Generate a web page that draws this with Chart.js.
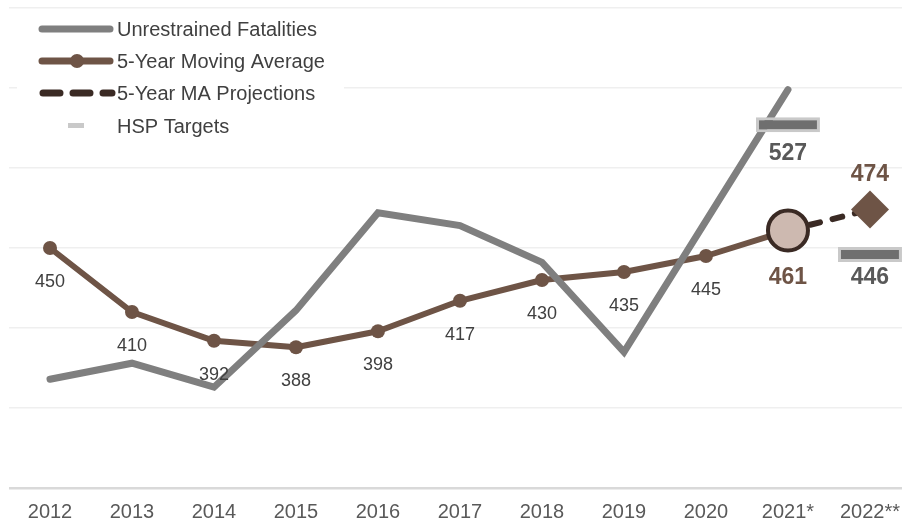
<!DOCTYPE html>
<html>
<head>
<meta charset="utf-8">
<script src="https://cdn.jsdelivr.net/npm/chart.js@4"></script>
<style>
  body { margin: 0; overflow: hidden; background: #fff; }
  #wrap { width: 912px; height: 523px; position: relative; }
</style>
</head>
<body>
<div id="wrap"><canvas id="chart" width="912" height="523"></canvas></div>
<script>
// Chart data
const years = ["2012", "2013", "2014", "2015", "2016", "2017", "2018", "2019", "2020", "2021*", "2022**"];
const unrestrained = [368, 378, 363, 411, 472, 464, 441, 385, 467, 549, null];
const movingAvg = [450, 410, 392, 388, 398, 417, 430, 435, 445, 461, null];
const projections = [null, null, null, null, null, null, null, null, null, 461, 474];
const hspTargets = [null, null, null, null, null, null, null, null, null, 527, 446];

const FONT = '"Liberation Sans", Arial, sans-serif';
const GREY = "#7f7f7f";
const BROWN = "#6e5446";
const DARK = "#3a2a24";

// floating bars give the small target rectangles
const targetBars = hspTargets.map((v) => (v == null ? null : [v - 4.7, v + 4.7]));

const legendPlugin = {
  id: "legendBox",
  beforeDatasetsDraw(chart) {
    const ctx = chart.ctx;
    ctx.save();
    ctx.fillStyle = "#fff";
    ctx.fillRect(17, 13, 327, 128);

    ctx.lineCap = "round";
    // unrestrained
    ctx.strokeStyle = GREY;
    ctx.lineWidth = 7;
    ctx.beginPath(); ctx.moveTo(42, 29); ctx.lineTo(110, 29); ctx.stroke();
    // moving average
    ctx.strokeStyle = BROWN;
    ctx.beginPath(); ctx.moveTo(42, 61); ctx.lineTo(110, 61); ctx.stroke();
    ctx.fillStyle = BROWN;
    ctx.beginPath(); ctx.arc(77, 61, 7, 0, Math.PI * 2); ctx.fill();
    // projections
    ctx.strokeStyle = DARK;
    ctx.setLineDash([17, 13]);
    ctx.beginPath(); ctx.moveTo(43, 93); ctx.lineTo(112, 93); ctx.stroke();
    ctx.setLineDash([]);
    // targets
    ctx.fillStyle = "#c9c9c9";
    ctx.fillRect(68, 123, 16, 5);

    ctx.fillStyle = "#404040";
    ctx.font = "20px " + FONT;
    ctx.textBaseline = "middle";
    ctx.textAlign = "left";
    const names = ["Unrestrained Fatalities", "5-Year Moving Average", "5-Year MA Projections", "HSP Targets"];
    const ys = [29, 61, 93, 126];
    names.forEach((n, i) => ctx.fillText(n, 117, ys[i] + 1));
    ctx.restore();
  },
};

const labelPlugin = {
  id: "valueLabels",
  afterDatasetsDraw(chart) {
    const ctx = chart.ctx;
    ctx.save();
    ctx.textAlign = "center";
    ctx.textBaseline = "middle";
    const maMeta = chart.getDatasetMeta(1);
    movingAvg.forEach((v, i) => {
      if (v == null) return;
      const pt = maMeta.data[i];
      if (i < 9) {
        ctx.font = "18px " + FONT;
        ctx.fillStyle = "#404040";
        ctx.fillText(String(v), pt.x, pt.y + 34);
      } else {
        ctx.font = "bold 23px " + FONT;
        ctx.fillStyle = BROWN;
        ctx.fillText(String(v), pt.x, pt.y + 47);
      }
    });
    const prMeta = chart.getDatasetMeta(2);
    const last = prMeta.data[10];
    ctx.font = "bold 23px " + FONT;
    ctx.fillStyle = BROWN;
    ctx.fillText(String(projections[10]), last.x, last.y - 35);

    const yScale = chart.scales.y;
    const xScale = chart.scales.x;
    ctx.fillStyle = "#595959";
    const offs = [0, 0, 0, 0, 0, 0, 0, 0, 0, 29, 23];
    hspTargets.forEach((v, i) => {
      if (v == null) return;
      ctx.fillText(String(v), xScale.getPixelForValue(i), yScale.getPixelForValue(v) + offs[i]);
    });
    ctx.restore();
  },
};

new Chart(document.getElementById("chart"), {
  type: "line",
  data: {
    labels: years,
    datasets: [
      {
        label: "Unrestrained Fatalities",
        data: unrestrained,
        borderColor: GREY,
        borderWidth: 7,
        borderCapStyle: "round",
        borderJoinStyle: "miter",
        pointRadius: 0,
        tension: 0,
        order: 1,
      },
      {
        label: "5-Year Moving Average",
        data: movingAvg,
        borderColor: BROWN,
        borderWidth: 6,
        borderJoinStyle: "round",
        tension: 0,
        pointRadius: (c) => (c.dataIndex === 9 ? 20 : 7),
        pointBackgroundColor: (c) => (c.dataIndex === 9 ? "#cdb9b0" : BROWN),
        pointBorderColor: (c) => (c.dataIndex === 9 ? DARK : BROWN),
        pointBorderWidth: (c) => (c.dataIndex === 9 ? 4 : 0),
        order: 2,
      },
      {
        label: "5-Year MA Projections",
        data: projections,
        borderColor: DARK,
        borderWidth: 6,
        borderDash: [10, 13],
        borderCapStyle: "round",
        tension: 0,
        pointStyle: "rectRot",
        pointRadius: (c) => (c.dataIndex === 10 ? 19 : 0),
        pointBackgroundColor: BROWN,
        pointBorderColor: BROWN,
        pointBorderWidth: 0,
        order: 3,
      },
      {
        type: "bar",
        label: "HSP Targets",
        data: targetBars,
        backgroundColor: "#6f6f6f",
        borderColor: "#c9c9c9",
        borderWidth: 3,
        borderSkipped: false,
        categoryPercentage: 1,
        barPercentage: 0.78,
        order: 0,
      },
    ],
  },
  options: {
    responsive: false,
    animation: false,
    layout: { autoPadding: false, padding: { left: 9, right: 0, top: 8, bottom: 0 } },
    plugins: {
      legend: { display: false },
      tooltip: { enabled: false },
    },
    scales: {
      x: {
        offset: true,
        grid: { display: false, drawTicks: false },
        border: { display: false },
        ticks: {
          color: "#595959",
          font: { family: FONT, size: 20 },
          padding: 12,
          maxRotation: 0,
          autoSkip: false,
        },
        afterFit: (s) => { s.height = 35; },
      },
      y: {
        min: 300,
        max: 600,
        ticks: { display: false, stepSize: 50 },
        border: { display: false },
        grid: {
          drawTicks: false,
          color: (c) => (c.tick && c.tick.value === 300 ? "#d9d9d9" : "#efefef"),
          lineWidth: (c) => (c.tick && c.tick.value === 300 ? 2.5 : 1.5),
        },
        afterFit: (s) => { s.width = 0; },
      },
    },
  },
  plugins: [legendPlugin, labelPlugin],
});
</script>
</body>
</html>
